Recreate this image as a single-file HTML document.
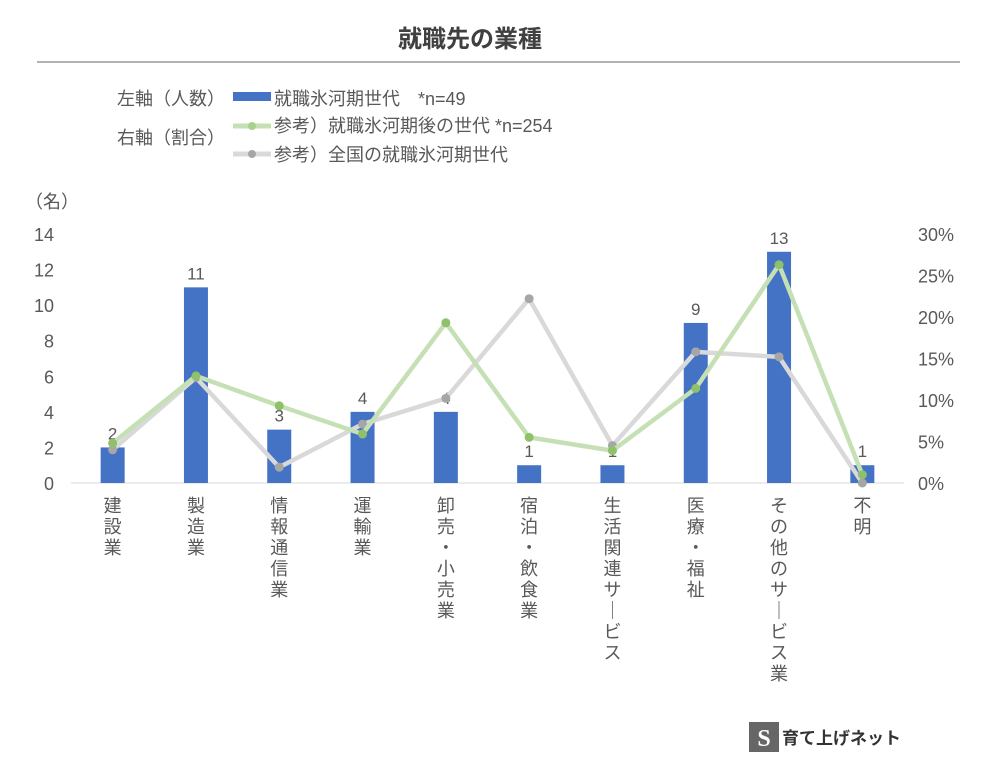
<!DOCTYPE html>
<html><head><meta charset="utf-8"><style>
body{margin:0;background:#fff;}
svg text{font-family:"Liberation Sans","Noto Sans CJK JP",sans-serif;fill:#595959;}
</style></head><body>
<svg width="989" height="774" xmlns="http://www.w3.org/2000/svg">
<text x="470" y="47" font-size="24" font-weight="bold" text-anchor="middle" style="fill:#404040">就職先の業種</text>
<line x1="37" y1="62" x2="960" y2="62" stroke="#999" stroke-width="1.5"/>
<g font-size="18">
<text x="117" y="105">左軸（人数）</text>
<text x="117" y="144">右軸（割合）</text>
<g><rect x="233" y="92" width="38" height="9" fill="#4472c4"/><text x="274" y="105">就職氷河期世代　*n=49</text></g>
<g><line x1="233" y1="126" x2="271" y2="126" stroke="#c5e0b4" stroke-width="5"/><circle cx="252" cy="126" r="4" fill="#a9d18e"/><text x="274" y="132">参考）就職氷河期後の世代 *n=254</text></g>
<g><line x1="233" y1="154" x2="271" y2="154" stroke="#d9d9d9" stroke-width="5"/><circle cx="252" cy="154" r="4" fill="#a6a6a6"/><text x="274" y="161">参考）全国の就職氷河期世代</text></g>
</g>
<text x="25" y="208" font-size="18">（名）</text>
<g id="plot"></g>
<g>
<rect x="749" y="722" width="30" height="30" fill="#666"/>
<text x="764" y="746" font-size="24" font-weight="bold" text-anchor="middle" style="fill:#fff;font-family:'Liberation Serif',serif">S</text>
<text x="782" y="744" font-size="17" font-weight="bold" style="fill:#333">育て上げネット</text>
</g>
</svg>
<script>
const categories=["建設業","製造業","情報通信業","運輸業","卸売・小売業","宿泊・飲食業","生活関連サービス","医療・福祉","その他のサービス業","不明"];
const counts=[2,11,3,4,4,1,1,9,13,1];
const greenPct=[4.8,12.9,9.3,5.9,19.3,5.5,3.9,11.4,26.3,1.0];
const greyPct=[4.0,12.7,1.9,7.1,10.2,22.2,4.5,15.8,15.2,0];
const leftTicks=[0,2,4,6,8,10,12,14];
const rightTicks=[0,5,10,15,20,25,30];
const NS="http://www.w3.org/2000/svg";
const g=document.getElementById('plot');
const X0=71,X1=904,Y0=483,Y1=234;
const step=(X1-X0)/categories.length;
const xs=i=>X0+step*(i+0.5);
const yl=v=>Y0-(v/14)*(Y0-Y1);
const yr=v=>Y0-(v/30)*(Y0-Y1);
function mk(t,a,txt){const e=document.createElementNS(NS,t);for(const k in a)e.setAttribute(k,a[k]);if(txt!=null)e.textContent=txt;g.appendChild(e);return e;}
const ax=mk('line',{x1:X0,y1:Y0,x2:X1,y2:Y0,stroke:'#d9d9d9','stroke-width':1});


leftTicks.forEach(v=>{const t=mk('text',{x:54,y:yl(v)+7,'font-size':18,'text-anchor':'end'},v);

});
rightTicks.forEach(v=>{const t=mk('text',{x:918,y:yr(v)+7,'font-size':18},v+'%');

});
counts.forEach((v,i)=>{const r=mk('rect',{x:xs(i)-12,y:yl(v),width:24,height:Y0-yl(v),fill:'#4472c4'});


const t=mk('text',{x:xs(i),y:yl(v)-8,'font-size':17,'text-anchor':'middle'},v);

});
function line(vals,stroke,dot,name){
const p=mk('polyline',{points:vals.map((v,i)=>xs(i)+','+yr(v)).join(' '),fill:'none',stroke:stroke,'stroke-width':4.5,'stroke-linejoin':'round'});


vals.forEach((v,i)=>{const c=mk('circle',{cx:xs(i),cy:yr(v),r:4.5,fill:dot});

});}
line(greyPct,'#d9d9d9','#a6a6a6','grey-series');
line(greenPct,'#c5e0b4','#8fc06a','green-series');
categories.forEach((c,i)=>{const t=mk('text',{'font-size':18,'text-anchor':'middle'});


[...c].forEach((ch,j)=>{const s=document.createElementNS(NS,'tspan');s.setAttribute('x',xs(i));s.setAttribute('y',512+j*21);s.textContent=ch==='ー'?'｜':ch;t.appendChild(s);});});
</script>
</body></html>
